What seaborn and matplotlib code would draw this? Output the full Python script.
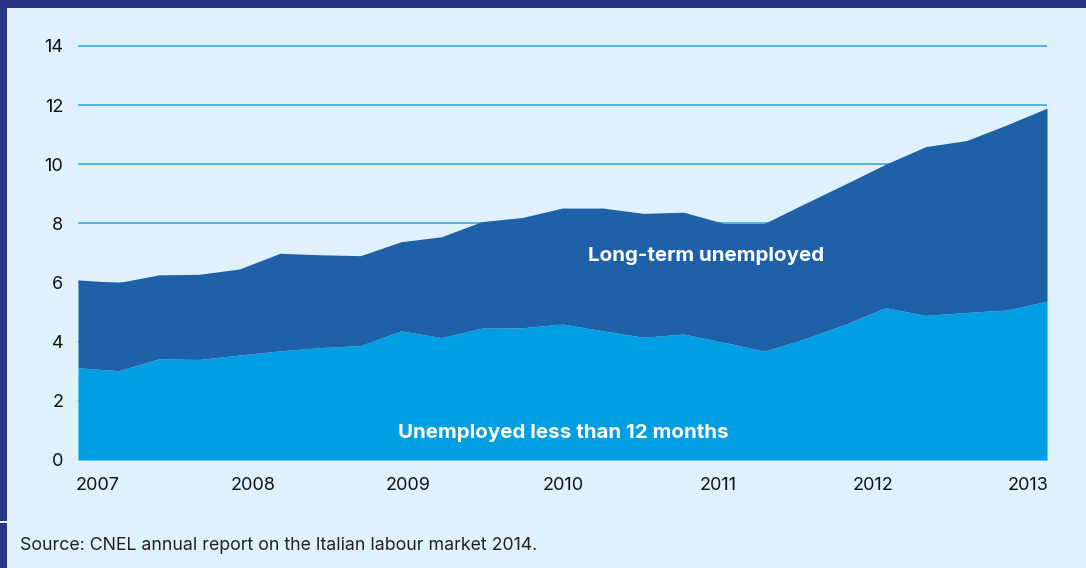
import numpy as np
import matplotlib
matplotlib.use("Agg")
import matplotlib.pyplot as plt
from matplotlib.patches import Rectangle
import seaborn as sns

# Unemployed persons, quarterly 2007 Q1 - 2013 Q1
quarters = np.arange(25)
short_term = [3.12, 3.02, 3.42, 3.40, 3.55, 3.69, 3.80, 3.87, 4.37, 4.14,
              4.46, 4.47, 4.60, 4.37, 4.15, 4.26, 3.98, 3.68, 4.10, 4.59,
              5.15, 4.89, 4.99, 5.07, 5.37]
long_term = [2.97, 2.98, 2.84, 2.88, 2.91, 3.30, 3.14, 3.04, 3.01, 3.41,
             3.60, 3.73, 3.92, 4.15, 4.19, 4.12, 4.02, 4.32, 4.57, 4.74,
             4.85, 5.71, 5.81, 6.26, 6.53]
year_labels = ["2007", "2008", "2009", "2010", "2011", "2012", "2013"]
y_ticks = [0, 2, 4, 6, 8, 10, 12, 14]
source_note = "Source: CNEL annual report on the Italian labour market 2014."

BG = "#dff1fc"
NAVY = "#283583"
LIGHT = "#009fe3"
DARK = "#1f61a9"
GRID = "#4fb4e4"
TEXT = "#141414"

sns.set_theme(style="whitegrid")
plt.rcParams["font.family"] = ["Inter", "DejaVu Sans"]

W, H = 1086, 568
fig = plt.figure(figsize=(W / 100, H / 100), dpi=100, facecolor=BG)

# frame: navy bar on top and on the left edge
fig.patches.append(Rectangle((0, 1 - 7.5 / H), 1, 7.5 / H, transform=fig.transFigure,
                             facecolor=NAVY, edgecolor="none", zorder=0))
fig.patches.append(Rectangle((0, (H - 521) / H), 7 / W, 521 / H, transform=fig.transFigure,
                             facecolor=NAVY, edgecolor="none", zorder=0))
fig.patches.append(Rectangle((0, 0), 7 / W, (H - 522.5) / H, transform=fig.transFigure,
                             facecolor=NAVY, edgecolor="none", zorder=0))

ymax = 14.2
px_per_unit = 414 / 14
ax_top = 460 - ymax * px_per_unit
ax = fig.add_axes([78 / W, (H - 460) / H, 969 / W, (460 - ax_top) / H])
ax.set_facecolor(BG)

ax.stackplot(quarters, short_term, long_term, colors=[LIGHT, DARK],
             linewidth=0, zorder=2)

ax.set_xlim(0, 24)
ax.set_ylim(0, ymax)
ax.set_yticks(y_ticks)
ax.set_yticklabels([str(v) for v in y_ticks])
ax.set_xticks(np.linspace(0.495, 23.53, len(year_labels)))
ax.set_xticklabels(year_labels)

ax.grid(axis="y", color=GRID, linewidth=1.4, zorder=0)
ax.grid(axis="x", visible=False)
ax.set_axisbelow(True)
sns.despine(ax=ax, left=True, bottom=True)
ax.tick_params(axis="y", length=0, pad=10.5, labelsize=13, labelcolor=TEXT)
ax.tick_params(axis="x", length=0, pad=12, labelsize=13, labelcolor=TEXT)

ax.text(15.55, 6.73, "Long-term unemployed", color="white", fontsize=14.8,
        fontweight="bold", ha="center", va="baseline", zorder=3)
ax.text(12.03, 0.73, "Unemployed less than 12 months", color="white", fontsize=14.8,
        fontweight="bold", ha="center", va="baseline", zorder=3)

fig.text(20 / W, 1 - 546 / H, source_note, color="#222222", fontsize=12.8,
         ha="left", va="center")

fig.savefig("out.png", dpi=100, facecolor=BG)
